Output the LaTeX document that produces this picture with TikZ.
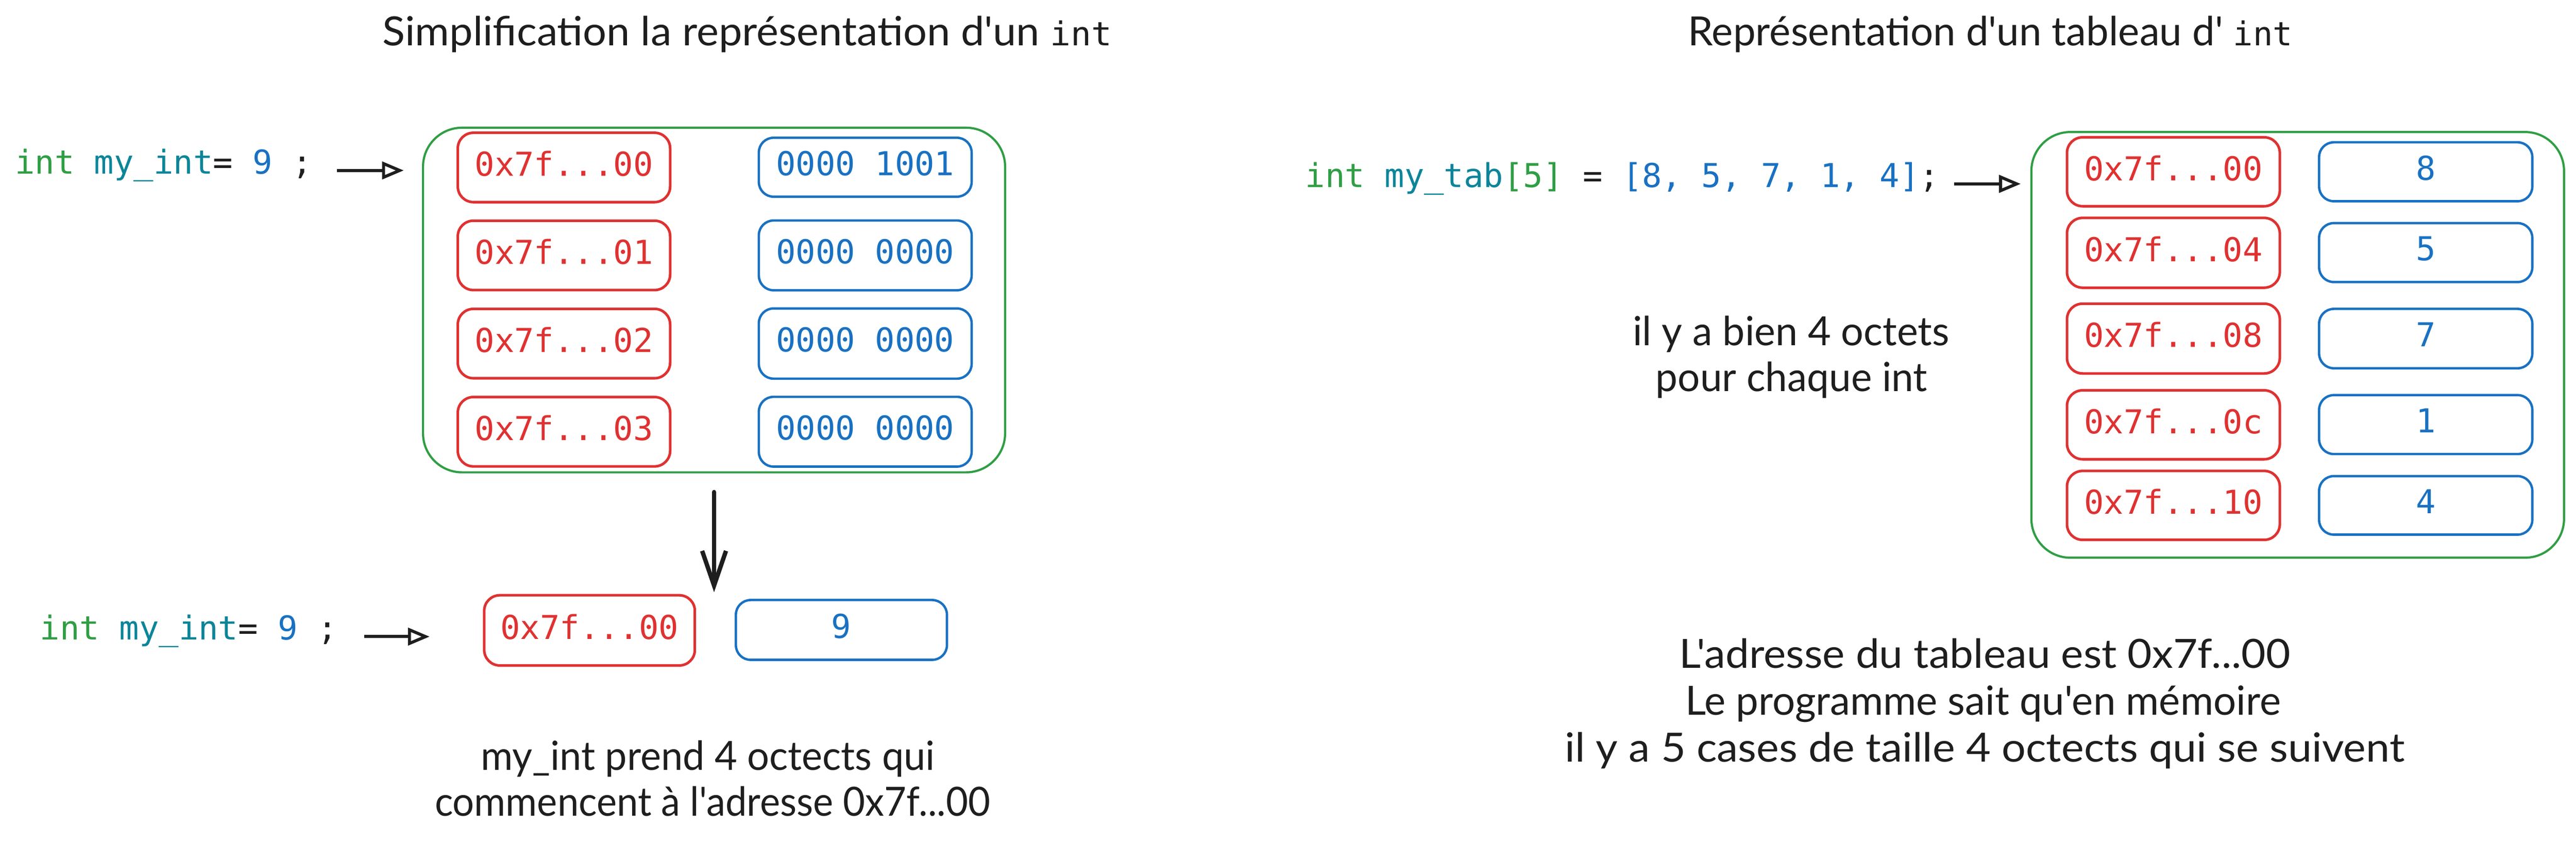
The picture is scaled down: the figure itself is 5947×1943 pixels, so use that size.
\documentclass[tikz,border=0pt]{standalone}
\usepackage{fontspec}
\usepackage{graphicx}
\usetikzlibrary{arrows.meta}
\newfontfamily\codefont[WordSpace={1,0,0}]{DejaVu Sans Mono}
\newfontfamily\handfont{Lato}
\definecolor{cgreen}{HTML}{2F9E44}
\definecolor{cteal}{HTML}{0C8599}
\definecolor{cblue}{HTML}{1971C2}
\definecolor{cred}{HTML}{E03131}
\definecolor{cdark}{HTML}{1E1E1E}
\newcommand{\intcode}{{\codefont\fontsize{21.6}{26}\selectfont int}}
\frenchspacing
\begin{document}
\begin{tikzpicture}[x=0.01cm,y=-0.01cm,
  cfont/.style={font=\codefont\fontsize{21.6}{26}\selectfont},
  addr/.style={cfont, draw=cred, text=cred, line width=0.06cm, rounded corners=0.36cm,
    minimum width=4.9cm, minimum height=1.6cm, inner sep=0pt, text depth=0.18cm},
  val/.style={cfont, draw=cblue, text=cblue, line width=0.055cm, rounded corners=0.34cm,
    minimum width=4.91cm, minimum height=1.36cm, inner sep=0pt, text depth=0.18cm},
  frame/.style={draw=cgreen, line width=0.05cm, rounded corners=0.9cm, inner sep=0pt},
  code/.style={cfont, text=cdark, inner sep=0pt, anchor=base west},
  hand/.style={font=\handfont\fontsize{26.4}{32}\selectfont, text=cdark, inner sep=0pt, anchor=base},
  arr/.style={draw=cdark, line width=0.07cm, -{Triangle[open, length=0.5cm, width=0.4cm]}},
  darr/.style={draw=cdark, line width=0.1cm, line cap=round, -{Straight Barb[length=0.8cm, width=0.55cm]}}
]
\fill[white] (0,0) rectangle (5947,1943);
\useasboundingbox (0,0) rectangle (5947,1943);

% titles
\node[hand] (titleA) at (1725,105) {\scalebox{1.04}[1]{Simplification la représentation d'un \intcode}};
\node[hand] (titleB) at (4595,105) {Représentation d'un tableau d' \intcode};

% ---------- left part ----------
\node[frame, minimum width=13.43cm, minimum height=7.95cm] (frameA) at (1648.5,692.5) {};

\node[addr] (rA1) at (1302,386.5) {0x7f...00};
\node[addr] (rA2) at (1302,589.5) {0x7f...01};
\node[addr] (rA3) at (1302,793) {0x7f...02};
\node[addr] (rA4) at (1302,996.5) {0x7f...03};

\node[val] (bA1) at (1997.5,386) {0000 1001};
\node[val, minimum height=1.61cm] (bA2) at (1997.5,589.5) {0000 0000};
\node[val, minimum height=1.62cm] (bA3) at (1997.5,793) {0000 0000};
\node[val, minimum height=1.61cm] (bA4) at (1997.5,996.5) {0000 0000};

\node[code] (codeA) at (34,401) {\textcolor{cgreen}{int} \textcolor{cteal}{my\_int}= \textcolor{cblue}{9} ;};
\draw[arr, shorten <=0.57cm, shorten >=0.42cm] (codeA.mid east) -- (codeA.mid east -| frameA.west);

% bottom-left row
\node[addr, minimum width=4.86cm, minimum height=1.62cm] (redB) at (1361,1455) {0x7f...00};
\node[val, minimum width=4.87cm, minimum height=1.38cm] (blueB) at (1942.5,1454) {9};
\node[code] (codeB) at (92,1477) {\textcolor{cgreen}{int} \textcolor{cteal}{my\_int}= \textcolor{cblue}{9} ;};
\draw[arr, shorten <=0.61cm, shorten >=1.23cm] (codeB.mid east) -- (codeB.mid east -| redB.west);
\draw[darr, shorten <=0.43cm, shorten >=0.04cm] (frameA.south) -- (frameA.south |- redB.north);

\node[hand] (noteA1) at (1634,1778) {\scalebox{0.97}[1]{my\_int prend 4 octects qui}};
\node[hand] (noteA2) at (1645,1883) {\scalebox{0.95}[1]{commencent à l'adresse 0x7f...00}};

% ---------- right part ----------
\node[frame, minimum width=12.29cm, minimum height=9.82cm] (frameC) at (5304.5,796) {};

\node[addr, minimum width=4.91cm, minimum height=1.59cm] (rC1) at (5017.5,396.5) {0x7f...00};
\node[addr, minimum width=4.91cm, minimum height=1.61cm] (rC2) at (5017.5,583.5) {0x7f...04};
\node[addr, minimum width=4.91cm, minimum height=1.61cm] (rC3) at (5017.5,781.5) {0x7f...08};
\node[addr, minimum width=4.91cm, minimum height=1.59cm] (rC4) at (5017.5,980.5) {0x7f...0c};
\node[addr, minimum width=4.91cm, minimum height=1.59cm] (rC5) at (5017.5,1166.5) {0x7f...10};

\node[val, minimum width=4.92cm] (bC1) at (5600,396.5) {8};
\node[val, minimum width=4.92cm] (bC2) at (5600,583) {5};
\node[val, minimum width=4.92cm, minimum height=1.37cm] (bC3) at (5600,781.5) {7};
\node[val, minimum width=4.92cm] (bC4) at (5600,980) {1};
\node[val, minimum width=4.92cm, minimum height=1.35cm] (bC5) at (5600,1166.5) {4};

\node[code] (codeC) at (3013,432) {\textcolor{cgreen}{int} \textcolor{cteal}{my\_tab}\textcolor{cgreen}{[5]} = \textcolor{cblue}{[8, 5, 7, 1, 4]};};
\draw[arr, shorten <=0.34cm, shorten >=0.22cm] (codeC.mid east) -- (codeC.mid east -| frameC.west);

\node[hand] (noteC1) at (4135,797) {\scalebox{0.99}[1]{il y a bien 4 octets}};
\node[hand] (noteC2) at (4136,903) {\scalebox{0.98}[1]{pour chaque int}};

\node[hand] (noteD1) at (4582,1542) {\scalebox{1.05}[1]{L'adresse du tableau est 0x7f...00}};
\node[hand] (noteD2) at (4578,1650) {Le programme sait qu'en mémoire};
\node[hand] (noteD3) at (4582,1758) {\scalebox{1.06}[1]{il y a 5 cases de taille 4 octects qui se suivent}};
\end{tikzpicture}
\end{document}
